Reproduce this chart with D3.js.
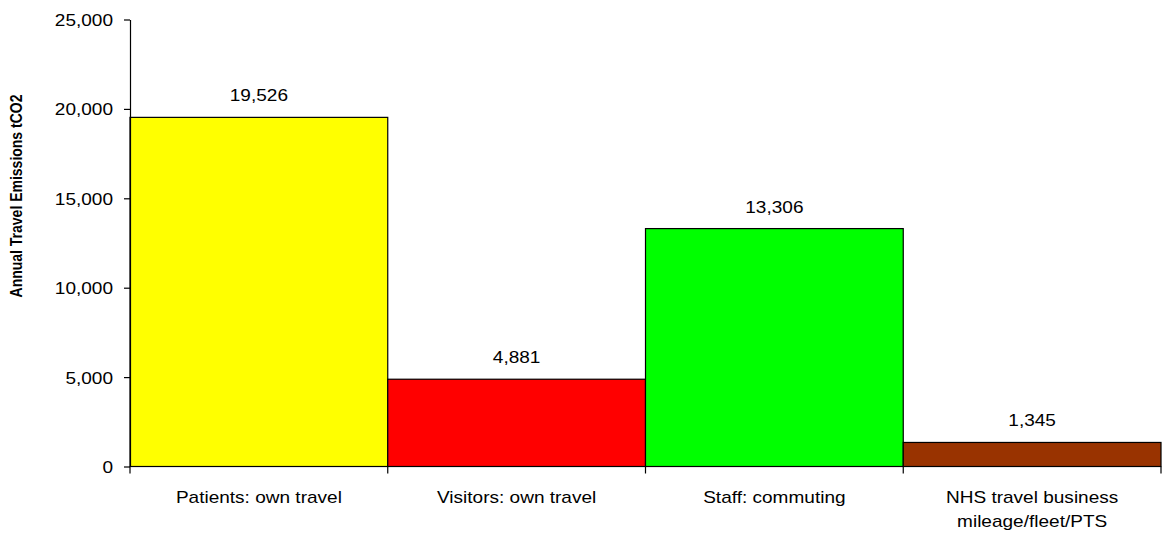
<!DOCTYPE html>
<html>
<head>
<meta charset="utf-8">
<script src="https://cdn.jsdelivr.net/npm/d3@7"></script>
<style>
  html, body { margin: 0; padding: 0; background: #fff; }
  svg { display: block; font-family: "Liberation Sans", Arial, sans-serif; }
</style>
</head>
<body>
<svg id="chart" width="1167" height="536"></svg>
<script>
// Annual travel emissions by source (tCO2)
const categories = [
  ["Patients: own travel"],
  ["Visitors: own travel"],
  ["Staff: commuting"],
  ["NHS travel business", "mileage/fleet/PTS"]
];
const values = [19526, 4881, 13306, 1345];
const barColors = ["#FFFF00", "#FF0000", "#00FF00", "#993300"];
const yTicks = [0, 5000, 10000, 15000, 20000, 25000];
const yTitle = "Annual Travel Emissions tCO2";

const svg = d3.select("#chart");
const plot = { left: 130, right: 1161, top: 19.5, bottom: 466.5 };
const sx = 1.12;          // horizontal text widening
const fontSize = 17;
const fmt = d3.format(",");

const x = d3.scaleBand()
  .domain(d3.range(values.length))
  .range([plot.left, plot.right])
  .paddingInner(0).paddingOuter(0);

const y = d3.scaleLinear()
  .domain([0, 25000])
  .range([plot.bottom, plot.top]);

// Bars
svg.append("g").selectAll("rect")
  .data(values)
  .join("rect")
  .attr("x", (d, i) => x(i))
  .attr("y", d => y(d))
  .attr("width", x.bandwidth())
  .attr("height", d => y(0) - y(d))
  .attr("fill", (d, i) => barColors[i])
  .attr("stroke", "#000")
  .attr("stroke-width", 1.2);

// Y axis
const yAxis = svg.append("g")
  .attr("transform", `translate(${plot.left},0)`)
  .call(d3.axisLeft(y).tickValues(yTicks).tickSize(6).tickSizeOuter(0).tickFormat(fmt));
yAxis.select(".domain").attr("stroke", "#000").attr("stroke-width", 1.2);
yAxis.selectAll(".tick line").attr("stroke", "#000").attr("stroke-width", 1.2);
yAxis.selectAll(".tick text")
  .attr("x", -17 / sx)
  .attr("dy", "0.35em")
  .attr("transform", `scale(${sx},1)`)
  .attr("font-size", fontSize)
  .attr("font-family", "Liberation Sans, Arial, sans-serif")
  .attr("fill", "#000");

// X axis: baseline plus tick marks at category boundaries
const boundaries = d3.range(values.length).map(i => x(i)).concat([x(values.length - 1) + x.bandwidth()]);
const xAxis = svg.append("g");
xAxis.append("line")
  .attr("x1", plot.left).attr("x2", plot.right)
  .attr("y1", y(0)).attr("y2", y(0))
  .attr("stroke", "#000").attr("stroke-width", 1.2);
xAxis.selectAll("line.tick")
  .data(boundaries)
  .join("line")
  .attr("class", "tick")
  .attr("x1", d => d).attr("x2", d => d)
  .attr("y1", y(0)).attr("y2", y(0) + 7)
  .attr("stroke", "#000").attr("stroke-width", 1.2);

// Category labels
const catG = svg.append("g")
  .selectAll("g")
  .data(categories)
  .join("g")
  .attr("transform", (d, i) => `translate(${x(i) + x.bandwidth() / 2},${y(0) + 36}) scale(${sx},1)`);
catG.append("text")
  .attr("text-anchor", "middle")
  .attr("font-size", fontSize)
  .attr("fill", "#000")
  .selectAll("tspan")
  .data(d => d)
  .join("tspan")
  .attr("x", 0)
  .attr("y", (d, i) => i * 25)
  .text(d => d);

// Value labels above bars
svg.append("g")
  .selectAll("text")
  .data(values)
  .join("text")
  .attr("transform", (d, i) => `translate(${x(i) + x.bandwidth() / 2},${y(d) - 16}) scale(${sx},1)`)
  .attr("text-anchor", "middle")
  .attr("font-size", fontSize)
  .attr("fill", "#000")
  .text(d => fmt(d));

// Y axis title
svg.append("text")
  .attr("transform", "translate(22,196) scale(1.2,1) rotate(-90)")
  .attr("text-anchor", "middle")
  .attr("font-size", 14)
  .attr("font-weight", "bold")
  .attr("fill", "#000")
  .text(yTitle);
</script>
</body>
</html>
